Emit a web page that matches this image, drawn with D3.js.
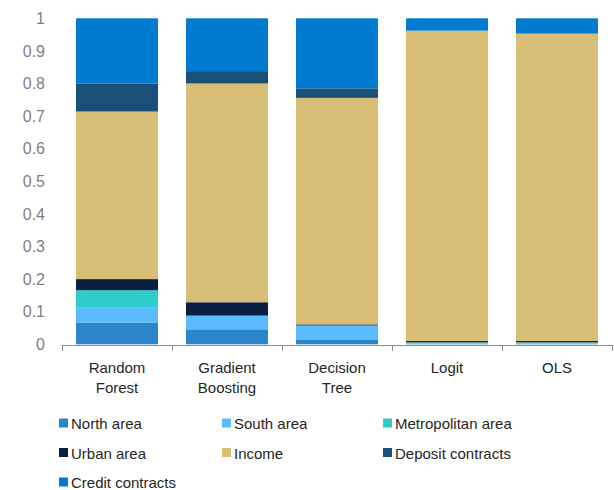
<!DOCTYPE html>
<html>
<head>
<meta charset="utf-8">
<script src="https://cdn.jsdelivr.net/npm/d3@7"></script>
<style>
body{margin:0;background:#fff;}
text{font-family:"Liberation Sans",Arial,sans-serif;}
</style>
</head>
<body>
<div class="box"></div>
<script>
// data
const categories=['Random Forest','Gradient Boosting','Decision Tree','Logit','OLS'];
const north  =[0.067,0.046,0.015,0.001,0.001];
const south  =[0.045,0.042,0.041,0.001,0.001];
const metro  =[0.054,0.000,0.002,0.004,0.004];
const urban  =[0.034,0.041,0.003,0.004,0.004];
const income =[0.514,0.671,0.695,0.952,0.943];
const deposit=[0.086,0.038,0.029,0.000,0.000];
const credit =[0.200,0.162,0.215,0.038,0.047];
const seriesNames=['North area','South area','Metropolitan area','Urban area','Income','Deposit contracts','Credit contracts'];
const yTicks=[0,0.1,0.2,0.3,0.4,0.5,0.6,0.7,0.8,0.9,1];

const colors=['#2a85ca','#5abbff','#2ecccb','#0a1e42','#d7bd76','#1a4f78','#007bd0'];
const seriesVals=[north,south,metro,urban,income,deposit,credit];

const W=614,H=490;
const svg=d3.select('.box').append('svg').attr('width',W).attr('height',H).style('background','white');

const rows=categories.map((c,i)=>{
    const r={cat:c};
    seriesNames.forEach((s,k)=>{r[s]=seriesVals[k][i];});
    return r;
});
const stacked=d3.stack().keys(seriesNames)(rows);

const x=d3.scaleBand().domain(categories).range([62,612]).paddingInner(0.2545).paddingOuter(0.12725);
const y=d3.scaleLinear().domain([0,1]).range([344.3,18.3]);
const color=d3.scaleOrdinal().domain(seriesNames).range(colors);

// bars
svg.append('g').selectAll('g').data(stacked).enter().append('g')
   .attr('fill',d=>color(d.key))
   .selectAll('rect').data(d=>d).enter().append('rect')
   .attr('x',d=>x(d.data.cat))
   .attr('width',x.bandwidth())
   .attr('y',d=>y(d[1]))
   .attr('height',d=>y(d[0])-y(d[1]));

// y axis (labels only)
const gY=svg.append('g').attr('transform','translate(62,0)')
   .call(d3.axisLeft(y).tickValues(yTicks).tickSize(0).tickPadding(17).tickFormat(d=>d3.format('')(+d.toFixed(1))));
gY.select('.domain').remove();
gY.selectAll('text').attr('font-size',16).attr('fill','#7f7f7f').attr('font-family','"Liberation Sans",Arial,sans-serif');

// x axis: line with ticks at band edges
const edge=d3.scaleLinear().domain([0,categories.length]).range([62,612]);
const gX=svg.append('g').attr('transform','translate(0,345)')
   .call(d3.axisBottom(edge).tickValues(d3.range(categories.length+1)).tickSize(6).tickSizeOuter(0).tickFormat(''));
gX.selectAll('.domain,line').attr('stroke','#8c8c8c');

// category labels
const lab=svg.append('g').selectAll('text').data(categories).enter().append('text')
   .attr('x',d=>x(d)+x.bandwidth()/2)
   .attr('y',373)
   .attr('text-anchor','middle')
   .attr('font-size',15)
   .attr('fill','#262626');
lab.each(function(d){
    const words=d.split(' ');
    d3.select(this).selectAll('tspan').data(words).enter().append('tspan')
      .attr('x',x(d)+x.bandwidth()/2)
      .attr('dy',(w,i)=>i===0?0:19.5)
      .text(w=>w);
});

// legend
const legX=[59,222,383];
const legend=svg.append('g').selectAll('g').data(seriesNames).enter().append('g')
   .attr('transform',(d,i)=>`translate(${legX[i%3]},${429+Math.floor(i/3)*29.5})`);
legend.append('rect').attr('x',0).attr('y',-10.5).attr('width',9).attr('height',9).attr('fill',d=>color(d));
legend.append('text').attr('x',12).attr('y',0).attr('font-size',15).attr('fill','#262626').text(d=>d);
</script>
</body>
</html>
